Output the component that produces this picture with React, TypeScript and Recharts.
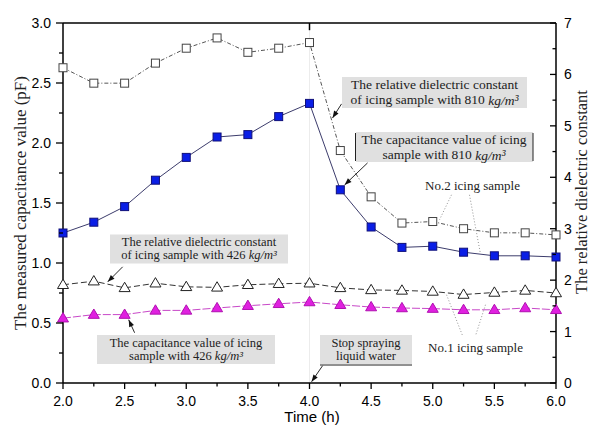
import React from 'react';
import { LineChart, Line, XAxis, YAxis, ReferenceLine } from 'recharts';

// sampling time (h)
const time = [2.0, 2.25, 2.5, 2.75, 3.0, 3.25, 3.5, 3.75, 4.0, 4.25, 4.5, 4.75, 5.0, 5.25, 5.5, 5.75, 6.0];
// capacitance (pF), left axis
const cap810 = [1.25, 1.34, 1.47, 1.69, 1.88, 2.05, 2.07, 2.22, 2.33, 1.61, 1.3, 1.13, 1.14, 1.09, 1.06, 1.06, 1.05];
const cap426 = [0.54, 0.57, 0.57, 0.605, 0.605, 0.625, 0.644, 0.66, 0.675, 0.652, 0.633, 0.625, 0.62, 0.61, 0.61, 0.625, 0.61];
// relative dielectric constant, right axis
const diel810 = [6.13, 5.83, 5.83, 6.22, 6.51, 6.71, 6.43, 6.51, 6.62, 4.52, 3.62, 3.11, 3.14, 3.0, 2.92, 2.92, 2.88];
const diel426 = [1.91, 1.98, 1.85, 1.94, 1.87, 1.86, 1.91, 1.93, 1.94, 1.85, 1.81, 1.8, 1.78, 1.72, 1.76, 1.8, 1.75];

const xTicks = [2, 2.25, 2.5, 2.75, 3, 3.25, 3.5, 3.75, 4, 4.25, 4.5, 4.75, 5, 5.25, 5.5, 5.75, 6];
const xLabels = [2, 2.5, 3, 3.5, 4, 4.5, 5, 5.5, 6];
const leftTicks = [0, 0.25, 0.5, 0.75, 1, 1.25, 1.5, 1.75, 2, 2.25, 2.5, 2.75, 3];
const leftLabels = [0, 0.5, 1, 1.5, 2, 2.5, 3];
const rightTicks = [0, 0.5, 1, 1.5, 2, 2.5, 3, 3.5, 4, 4.5, 5, 5.5, 6, 6.5, 7];
const rightLabels = [0, 1, 2, 3, 4, 5, 6, 7];

const data = time.map((t, i) => ({
  t,
  cap810: cap810[i],
  cap426: cap426[i],
  diel810: diel810[i],
  diel426: diel426[i],
}));

const SANS = '"Liberation Sans", Arial, sans-serif';
const SERIF = '"Liberation Serif", "Times New Roman", serif';

const XTick = (p: any) => {
  const major = xLabels.includes(p.payload.value);
  return (
    <g>
      <line x1={p.x} y1={p.y} x2={p.x} y2={p.y + (major ? 6 : 3.5)} stroke="#000" strokeWidth={1.3} />
      {major && (
        <text x={p.x} y={p.y + 18} textAnchor="middle" dominantBaseline="central" fontSize={14} fontFamily={SANS} fill="#000">
          {p.payload.value.toFixed(1)}
        </text>
      )}
    </g>
  );
};

const LeftTick = (p: any) => {
  const major = leftLabels.includes(p.payload.value);
  return (
    <g>
      <line x1={p.x} y1={p.y} x2={p.x - (major ? 7 : 4)} y2={p.y} stroke="#000" strokeWidth={1.3} />
      {major && (
        <text x={p.x - 12} y={p.y} textAnchor="end" dominantBaseline="central" fontSize={14} fontFamily={SANS} fill="#000">
          {p.payload.value.toFixed(1)}
        </text>
      )}
    </g>
  );
};

const RightTick = (p: any) => {
  const major = rightLabels.includes(p.payload.value);
  return (
    <g>
      <line x1={p.x} y1={p.y} x2={p.x - (major ? 6 : 3.5)} y2={p.y} stroke="#000" strokeWidth={1.3} />
      {major && (
        <text x={p.x + 8} y={p.y} textAnchor="start" dominantBaseline="central" fontSize={14} fontFamily={SANS} fill="#000">
          {p.payload.value}
        </text>
      )}
    </g>
  );
};

const squareDot = (fill: string, stroke: string, size: number) => (p: any) => (
  <rect
    key={`sq-${fill}-${p.index}`}
    x={p.cx - size / 2}
    y={p.cy - size / 2}
    width={size}
    height={size}
    fill={fill}
    stroke={stroke}
    strokeWidth={1}
  />
);

const triDot = (fill: string, stroke: string, w: number) => (p: any) => {
  const h = w * 0.85;
  const pts = `${p.cx},${p.cy - h * 0.6} ${p.cx - w / 2},${p.cy + h * 0.4} ${p.cx + w / 2},${p.cy + h * 0.4}`;
  return <polygon key={`tr-${fill}-${p.index}`} points={pts} fill={fill} stroke={stroke} strokeWidth={1} />;
};

const arrow = (p: any) => {
  const { x1, y1, x2, y2 } = p;
  const a = Math.atan2(y2 - y1, x2 - x1);
  const L = 7;
  const W = 2.6;
  const bx = x2 - L * Math.cos(a);
  const by = y2 - L * Math.sin(a);
  const pts = `${x2},${y2} ${bx + W * Math.sin(a)},${by - W * Math.cos(a)} ${bx - W * Math.sin(a)},${by + W * Math.cos(a)}`;
  return (
    <g>
      <line x1={x1} y1={y1} x2={x2} y2={y2} stroke="#111" strokeWidth={0.9} />
      <polygon points={pts} fill="#111" />
    </g>
  );
};

const leader = (p: any) => (
  <line x1={p.x1} y1={p.y1} x2={p.x2} y2={p.y2} stroke="#777" strokeWidth={0.8} strokeDasharray="1 2" />
);

const Kg = () => (
  <tspan fontStyle="italic">kg/m³</tspan>
);

export default function App() {
  return (
    <div style={{ position: 'absolute', left: 0, top: 0, width: 590, height: 426, background: '#fff' }}>
      <LineChart width={590} height={426} data={data} margin={{ top: 23, right: 0, bottom: 0, left: 0 }}>
        <XAxis
          dataKey="t"
          type="number"
          domain={[2, 6]}
          ticks={xTicks}
          interval={0}
          height={43}
          tickSize={0}
          tickMargin={0}
          tickLine={false}
          axisLine={{ stroke: '#000', strokeWidth: 1.5 }}
          tick={XTick}
        />
        <YAxis
          yAxisId="L"
          type="number"
          domain={[0, 3]}
          ticks={leftTicks}
          interval={0}
          width={63}
          tickSize={0}
          tickMargin={0}
          tickLine={false}
          axisLine={{ stroke: '#000', strokeWidth: 1.5 }}
          tick={LeftTick}
        />
        <YAxis
          yAxisId="R"
          orientation="right"
          type="number"
          domain={[0, 7]}
          ticks={rightTicks}
          interval={0}
          width={34}
          tickSize={0}
          tickMargin={0}
          tickLine={false}
          axisLine={{ stroke: '#000', strokeWidth: 1.5 }}
          tick={RightTick}
        />
        <ReferenceLine yAxisId="L" x={4} stroke="#ececec" strokeWidth={1} />
        <ReferenceLine yAxisId="L" y={3} stroke="#000" strokeWidth={1.5} />
        <ReferenceLine yAxisId="L" segment={[{ x: 4, y: 3 }, { x: 4, y: 2.94 }]} stroke="#000" strokeWidth={1.5} />

        <Line
          yAxisId="R"
          dataKey="diel810"
          stroke="#555"
          strokeWidth={1}
          strokeDasharray="4 2 1 2"
          dot={squareDot('#fff', '#444', 8)}
          isAnimationActive={false}
        />
        <Line
          yAxisId="L"
          dataKey="cap810"
          stroke="#3c3c6c"
          strokeWidth={1}
          dot={squareDot('#0a1ee6', '#10107a', 8)}
          isAnimationActive={false}
        />
        <Line
          yAxisId="R"
          dataKey="diel426"
          stroke="#333"
          strokeWidth={1}
          strokeDasharray="6 3"
          dot={triDot('#fff', '#222', 11)}
          isAnimationActive={false}
        />
        <Line
          yAxisId="L"
          dataKey="cap426"
          stroke="#c848c8"
          strokeWidth={1}
          strokeDasharray="8 2"
          dot={triDot('#e020e0', '#b010b0', 11)}
          isAnimationActive={false}
        />

        <ReferenceLine yAxisId="L" segment={[{ x: 4.26, y: 2.326 }, { x: 4.187, y: 2.209 }]} shape={arrow} />
        <ReferenceLine yAxisId="L" segment={[{ x: 4.471, y: 1.834 }, { x: 4.285, y: 1.651 }]} shape={arrow} />
        <ReferenceLine yAxisId="L" segment={[{ x: 2.484, y: 0.968 }, { x: 2.363, y: 0.843 }]} shape={arrow} />
        <ReferenceLine yAxisId="L" segment={[{ x: 2.581, y: 0.419 }, { x: 2.533, y: 0.527 }]} shape={arrow} />
        <ReferenceLine yAxisId="L" segment={[{ x: 4.106, y: 0.144 }, { x: 4.017, y: 0.011 }]} shape={arrow} />

        <ReferenceLine yAxisId="L" segment={[{ x: 5.152, y: 1.568 }, { x: 5.055, y: 1.36 }]} shape={leader} />
        <ReferenceLine yAxisId="L" segment={[{ x: 5.298, y: 1.568 }, { x: 5.387, y: 1.077 }]} shape={leader} />
        <ReferenceLine yAxisId="L" segment={[{ x: 5.112, y: 0.735 }, { x: 5.242, y: 0.394 }]} shape={leader} />
        <ReferenceLine yAxisId="L" segment={[{ x: 5.428, y: 0.652 }, { x: 5.347, y: 0.394 }]} shape={leader} />
      </LineChart>

      <svg
        width={590}
        height={426}
        style={{ position: 'absolute', left: 0, top: 0, pointerEvents: 'none' }}
        fontFamily={SERIF}
        fill="#222"
      >
        <text x={25.5} y={203} transform="rotate(-90 25.5 203)" textAnchor="middle" fontSize={17}>
          The measured capacitance value (pF)
        </text>
        <text x={587} y={192} transform="rotate(-90 587 192)" textAnchor="middle" fontSize={16.5}>
          The relative dielectric constant
        </text>
        <text x={312} y={422} textAnchor="middle" fontSize={15} fontFamily={SANS} fill="#000">
          Time (h)
        </text>

        <rect x={342} y={77} width={185} height={31} fill="#e0e0e0" />
        <text x={434.5} y={84.5} textAnchor="middle" dominantBaseline="central" fontSize={13.5}>
          The relative dielectric constant
        </text>
        <text x={434.5} y={99.5} textAnchor="middle" dominantBaseline="central" fontSize={13.5}>
          of icing sample with 810 <Kg />
        </text>

        <rect x={356} y={132} width={177} height={30} fill="#e0e0e0" />
        <line x1={355.5} y1={133} x2={355.5} y2={161} stroke="#222" strokeWidth={1} />
        <line x1={533} y1={133} x2={533} y2={161} stroke="#222" strokeWidth={1} />
        <text x={444} y={139.5} textAnchor="middle" dominantBaseline="central" fontSize={13.5}>
          The capacitance value of icing
        </text>
        <text x={444} y={154.5} textAnchor="middle" dominantBaseline="central" fontSize={13.5}>
          sample with 810 <Kg />
        </text>

        <text x={472.5} y={185} textAnchor="middle" dominantBaseline="central" fontSize={13}>
          No.2 icing sample
        </text>

        <rect x={110} y={234.5} width={178} height={29} fill="#e0e0e0" />
        <text x={199} y={241.5} textAnchor="middle" dominantBaseline="central" fontSize={12.5}>
          The relative dielectric constant
        </text>
        <text x={199} y={255} textAnchor="middle" dominantBaseline="central" fontSize={12.5}>
          of icing sample with 426 <Kg />
        </text>

        <rect x={97} y={335} width={178} height={29} fill="#e0e0e0" />
        <text x={186} y={342.5} textAnchor="middle" dominantBaseline="central" fontSize={12.5}>
          The capacitance value of icing
        </text>
        <text x={186} y={356} textAnchor="middle" dominantBaseline="central" fontSize={12.5}>
          sample with 426 <Kg />
        </text>

        <rect x={320} y={335} width={92} height={29} fill="#e0e0e0" />
        <line x1={320} y1={365} x2={412} y2={365} stroke="#222" strokeWidth={1} />
        <text x={366} y={342.5} textAnchor="middle" dominantBaseline="central" fontSize={12.5}>
          Stop spraying
        </text>
        <text x={366} y={356} textAnchor="middle" dominantBaseline="central" fontSize={12.5}>
          liquid water
        </text>

        <text x={475.5} y={347} textAnchor="middle" dominantBaseline="central" fontSize={13}>
          No.1 icing sample
        </text>
      </svg>
    </div>
  );
}
